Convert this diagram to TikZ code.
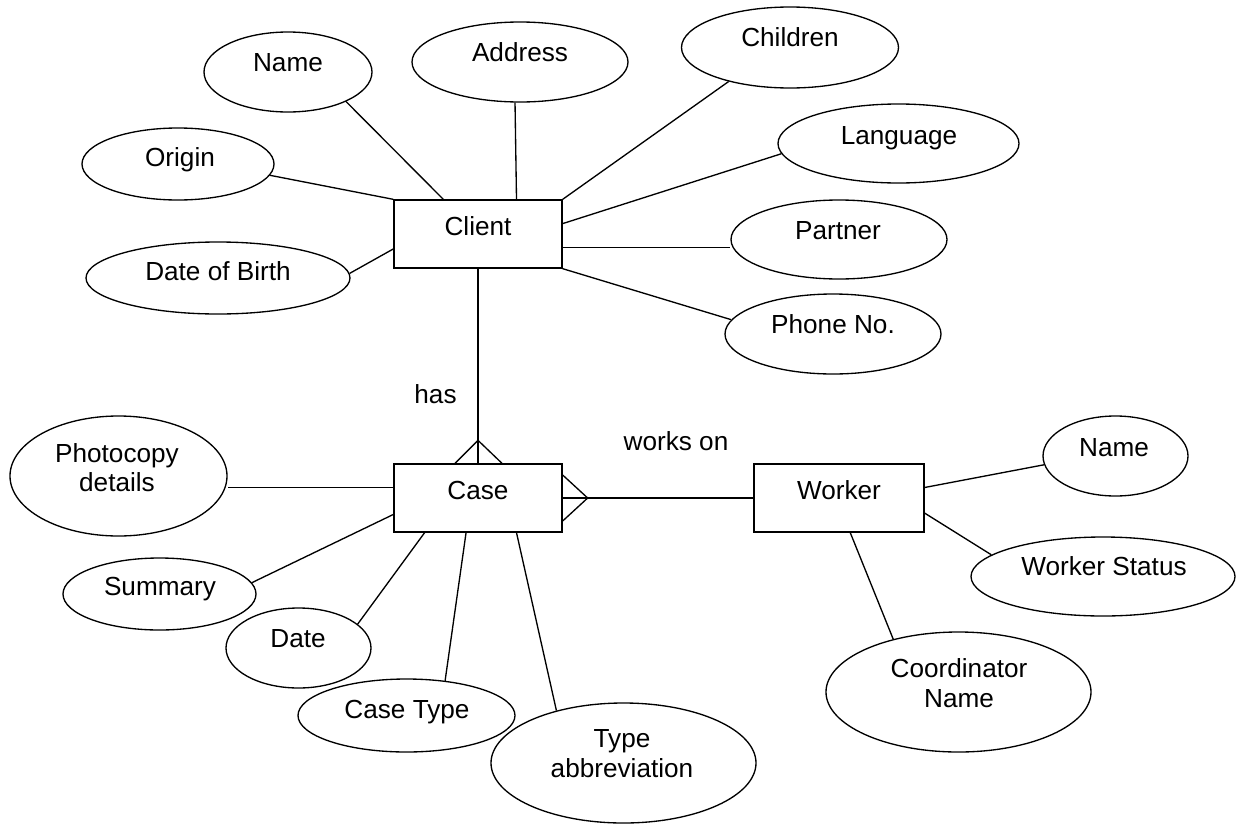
\documentclass[tikz,border=0pt]{standalone}
\usepackage{fontspec}
\setmainfont{Liberation Sans}
\usetikzlibrary{shapes.geometric}
\begin{document}
\begin{tikzpicture}[x=0.6pt,y=-0.6pt,
  every node/.style={font=\fontsize{15.7}{17.8}\selectfont},
  entity/.style={draw, rectangle, line width=0.8pt, inner sep=0pt,
    minimum width=#1*0.6pt, minimum height=68*0.6pt},
  attr/.style 2 args={draw, ellipse, line width=0.8pt, inner sep=0pt,
    minimum width=#1*0.6pt, minimum height=#2*0.6pt},
  lbl/.style={anchor=base, inner sep=0pt},
  lbltwo/.style={anchor=center, align=center, inner sep=0pt},
  link/.style={line width=0.8pt}]
\useasboundingbox (0,0) rectangle (1239,828);

% entities
\node[entity=168] (client) at (478,234) {};
\node[lbl] (client-t) at (478,235.5) {Client};
\node[entity=168] (case) at (478,498) {};
\node[lbl] (case-t) at (478,499.5) {Case};
\node[entity=170] (worker) at (839,498) {};
\node[lbl] (worker-t) at (839,499.5) {Worker};

% client attributes
\node[attr={168}{80}] (name) at (288,72) {};
\node[lbl] (name-t) at (288,71.5) {Name};
\node[attr={216}{80}] (address) at (520,62) {};
\node[lbl] (address-t) at (520,61.5) {Address};
\node[attr={217}{81}] (children) at (790,47.5) {};
\node[lbl] (children-t) at (790,46.5) {Children};
\node[attr={192}{72}] (origin) at (178,164) {};
\node[lbl] (origin-t) at (180,166.5) {Origin};
\node[attr={264}{72}] (dob) at (218,278) {};
\node[lbl] (dob-t) at (218,280.5) {Date of Birth};
\node[attr={241}{79}] (language) at (898.5,143.5) {};
\node[lbl] (language-t) at (899,144.5) {Language};
\node[attr={216}{79}] (partner) at (839,239.5) {};
\node[lbl] (partner-t) at (838,239.5) {Partner};
\node[attr={216}{80}] (phone) at (833,334) {};
\node[lbl] (phone-t) at (833,333.5) {Phone No.};

% case attributes
\node[attr={217}{120}] (photocopy) at (118.5,476) {};
\node[lbltwo] (photocopy-t) at (117,467.5) {Photocopy\\details};
\node[attr={193}{72}] (summary) at (159.5,594) {};
\node[lbl] (summary-t) at (160,595.5) {Summary};
\node[attr={145}{80}] (date) at (298.5,648) {};
\node[lbl] (date-t) at (298,647.5) {Date};
\node[attr={217}{73}] (casetype) at (406.5,715.5) {};
\node[lbl] (casetype-t) at (407,718.5) {Case Type};
\node[attr={265}{120}] (typeabbr) at (623.5,763) {};
\node[lbltwo] (typeabbr-t) at (622,753.5) {Type\\abbreviation};

% worker attributes
\node[attr={145}{80}] (wname) at (1115.5,456) {};
\node[lbl] (wname-t) at (1114,456.5) {Name};
\node[attr={264}{79}] (wstatus) at (1103,576.5) {};
\node[lbl] (wstatus-t) at (1104,575.5) {Worker Status};
\node[attr={265}{120}] (coord) at (958.5,692) {};
\node[lbltwo] (coord-t) at (959,683) {Coordinator\\Name};

% relationship names
\node[lbl] (has) at (435.5,403) {has};
\node[lbl] (workson) at (676,450.7) {works on};

% client links
\draw[link] (name.-27.7) -- (client.135.8);
\draw[link] (address.-97.1) -- (client.42.6);
\draw[link] (children.-151.5) -- (client.north east);
\draw[link] (origin.-7.05) -- (client.north west);
\draw[link] (dob.2.6) -- (client.-170.5);
\draw[link] (language.-175.5) -- (client.7.46);
\draw[link] (client.-9.46) -- (client.-9.46 -| partner.west);
\draw[link] (phone.172.1) -- (client.south east);

% case links
\draw[link] (case.173.2) -- (case.173.2 -| photocopy.east);
\draw[link] (summary.7.3) -- (case.-169.9);
\draw[link] (date.22) -- (case.-147.3);
\draw[link] (casetype.42.5) -- (case.-109.4);
\draw[link] (typeabbr.142) -- (case.-42.6);

% worker links
\draw[link] (worker.7.4) -- (wname.-173.5);
\draw[link] (worker.-10) -- (wstatus.169.9);
\draw[link] (worker.-72.5) -- (coord.141.6);

% relationships with crow's feet at the many side
\draw[link] (client.south) -- (case.north);
\draw[link] ([xshift=-23*0.6pt]case.north) -- ([yshift=23*0.6pt]case.north)
  -- ([xshift=24*0.6pt]case.north);
\draw[link] (case.east) -- (worker.west);
\draw[link] ([yshift=23*0.6pt]case.east) -- ([xshift=25*0.6pt]case.east)
  -- ([yshift=-23*0.6pt]case.east);
\end{tikzpicture}
\end{document}
